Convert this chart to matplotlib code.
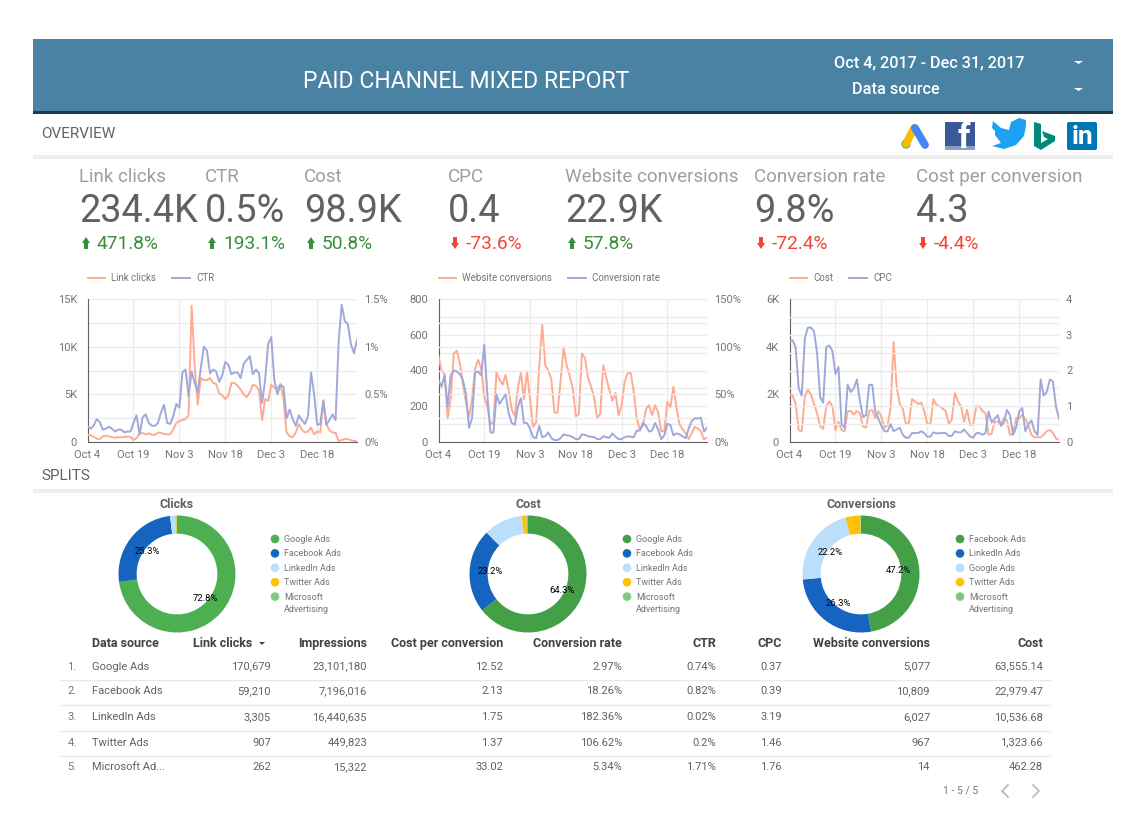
import matplotlib
matplotlib.use("Agg")
import matplotlib.pyplot as plt
import matplotlib.patches as mpatches
from matplotlib.lines import Line2D
import numpy as np
import pandas as pd

plt.rcParams['font.family'] = ['Roboto', 'DejaVu Sans']

W, H = 1145, 835

dates = pd.date_range("2017-10-04", "2017-12-31")
tick_dates = pd.to_datetime(["2017-10-04", "2017-10-19", "2017-11-03", "2017-11-18", "2017-12-03", "2017-12-18"])
tick_labels = ["Oct 4", "Oct 19", "Nov 3", "Nov 18", "Dec 3", "Dec 18"]

# thousands
link_clicks = [.75, .7, .55, .35, .3, .6, .65, .6, .5, .45,
               .5, .5, .55, .55, .55, .2, .4, .9, .95, .8,
               .9, .75, .75, 1.0, .95, .85, .8, .8, 1.3, 2.0,
               2.2, 2.3, 2.4, 2.8, 14.3, 8, 3.9, 6.7, 6.5, 6.5,
               6.7, 6.2, 6.1, 5.1, 4.9, 4.5, 4.9, 6.2, 6.2, 5.9,
               5.5, 5.0, 4.7, 5.2, 6.0, 5.9, 5.4, 2.3, 4.5, 4.3,
               6.0, 5.7, 5.6, 6.1, 4.5, 1.0, .6, .5, 1.0, 1.9,
               1.3, 1.0, 1.1, 1.5, .8, 1.1, 1.0, 4.4, 1.9, 1.2,
               1.0, .95, .1, .2, .3, .3, .2, .1, .1]
ctr = [.17, .14, .17, .24, .21, .13, .14, .16, .14, .11,
       .13, .13, .1, .11, .11, .2, .28, .08, .26, .29,
       .2, .17, .17, .2, .31, .39, .2, .19, .27, .4,
       .36, .73, .76, .48, .74, .62, .52, .78, 1.0, .96,
       .72, .76, .74, .63, .7, .84, .81, .71, .73, .73,
       .67, .82, .86, .9, .71, .76, .72, .41, .65, 1.03,
       1.1, .65, .5, .6, .58, .25, .34, .24, .17, .28,
       .23, .19, .27, .73, .5, .18, .19, .43, .18, .23,
       .29, .23, 1.05, 1.44, 1.27, 1.24, 1.03, .93, 1.07]
web_conv = [480, 400, 380, 130, 240, 495, 510, 440, 330, 220,
            140, 240, 410, 460, 410, 250, 200, 100, 110, 390,
            350, 320, 375, 290, 180, 145, 300, 390, 240, 395,
            240, 85, 110, 420, 655, 430, 400, 350, 165, 165,
            340, 530, 430, 370, 300, 145, 155, 495, 470, 360,
            310, 250, 130, 160, 430, 360, 290, 230, 275, 150,
            200, 335, 385, 390, 280, 130, 70, 90, 185, 205,
            150, 205, 165, 60, 60, 225, 195, 310, 190, 100,
            70, 50, 15, 50, 85, 75, 60, 15, 25]
conv_rate = [65, 58, 70, 37, 70, 75, 74, 71, 65, 50,
             15, 25, 73, 74, 70, 102, 50, 10, 10, 50,
             40, 45, 50, 30, 20, 18, 37, 46, 20, 20,
             14, 5, 4, 17, 5, 6, 10, 4, 2, 2,
             4, 8, 7, 6.5, 5, 3, 3, 8, 7.5, 6,
             5.5, 5, 3, 3, 6, 5, 4.5, 9, 5.5, 3,
             3, 5, 6, 5.5, 5, 12, 12, 20, 17, 11,
             12, 20, 13, 3, 7, 19, 18, 7, 9, 8,
             6, 4, 14, 22, 25, 24.5, 25.5, 11, 15]
cost = [2.0, 1.95, 1.6, .5, .45, 1.9, 2.2, 2.0, 1.6, 1.2,
        .65, .55, 1.5, 1.7, 1.5, .5, .85, .5, .45, 1.3,
        1.3, 1.15, 1.3, 1.2, .65, .6, 1.3, 1.35, 1.0, 1.3,
        1.05, .6, .7, 1.4, 4.2, 2.3, 1.6, 1.4, .75, .8,
        1.8, 1.7, 1.6, 1.65, 1.3, .75, .75, 1.8, 1.55, 1.5,
        1.4, 1.3, .75, .95, 2.05, 1.7, 1.5, .85, 1.35, .7,
        .75, 1.5, 1.5, 1.3, 1.2, .3, .35, .85, .85, .75,
        1.0, .9, .3, .35, 1.0, 1.0, 1.15, .95, .7, .3,
        .2, .2, .2, .3, .45, .5, .4, .15, .1]
cpc = [2.8, 2.85, 2.65, 1.5, 1.3, 2.9, 3.2, 3.2, 3.1, 2.5,
       1.25, 1.1, 2.65, 2.7, 2.55, 1.9, 2.1, .5, .4, 1.6,
       1.4, 1.5, 1.75, 1.15, .7, .75, 1.6, 1.6, .85, .65,
       .45, .3, .3, .5, .3, .35, .4, .2, .12, .12,
       .25, .25, .25, .3, .25, .15, .15, .27, .24, .25,
       .25, .25, .17, .17, .3, .27, .27, .35, .25, .15,
       .12, .25, .25, .2, .25, .85, .55, .65, .75, .45,
       .55, .9, .75, .2, .4, .85, .95, .3, .5, .6,
       .3, .2, 1.75, 1.3, 1.4, 1.75, 1.7, 1.0, .65]

kpi_names = ["Link clicks", "CTR", "Cost", "CPC", "Website conversions", "Conversion rate", "Cost per conversion"]
kpi_values = ["234.4K", "0.5%", "98.9K", "0.4", "22.9K", "9.8%", "4.3"]
kpi_deltas = ["471.8%", "193.1%", "50.8%", "-73.6%", "57.8%", "-72.4%", "-4.4%"]
kpi_x = [79, 205, 304, 448, 565, 754, 916]

clicks_names = ["Google Ads", "Facebook Ads", "LinkedIn Ads", "Twitter Ads", "Microsoft\nAdvertising"]
clicks_share = [72.8, 25.3, 1.4, 0.4, 0.1]
cost_names = ["Google Ads", "Facebook Ads", "LinkedIn Ads", "Twitter Ads", "Microsoft\nAdvertising"]
cost_share = [64.3, 23.2, 10.8, 1.3, 0.4]
conv_names = ["Facebook Ads", "LinkedIn Ads", "Google Ads", "Twitter Ads", "Microsoft\nAdvertising"]
conv_share = [47.2, 26.3, 22.2, 4.2, 0.1]

table_cols = ["Data source", "Link clicks", "Impressions", "Cost per conversion", "Conversion rate",
              "CTR", "CPC", "Website conversions", "Cost"]
table_rows = [
    ["Google Ads", "170,679", "23,101,180", "12.52", "2.97%", "0.74%", "0.37", "5,077", "63,555.14"],
    ["Facebook Ads", "59,210", "7,196,016", "2.13", "18.26%", "0.82%", "0.39", "10,809", "22,979.47"],
    ["LinkedIn Ads", "3,305", "16,440,635", "1.75", "182.36%", "0.02%", "3.19", "6,027", "10,536.68"],
    ["Twitter Ads", "907", "449,823", "1.37", "106.62%", "0.2%", "1.46", "967", "1,323.66"],
    ["Microsoft Ad...", "262", "15,322", "33.02", "5.34%", "1.71%", "1.76", "14", "462.28"],
]
table_x = [92, 252, 367, 503, 622, 716, 782, 930, 1043]
row_y = [666, 691, 717, 742, 767]

SALMON = "#ffab91"
PERI = "#9fa8da"
GRID = "#ececec"
GREY = "#757575"
DONUT_A = ["#4caf50", "#1565c0", "#bbdefb", "#ffc107", "#81c784"]
DONUT_B = ["#43a047", "#1565c0", "#bbdefb", "#ffc107", "#81c784"]


def box(x0, y0, x1, y1):
    # pixel box (y from the top) to figure fractions
    return [x0 / W, 1 - y1 / H, (x1 - x0) / W, (y1 - y0) / H]


fig = plt.figure(figsize=(W / 100, H / 100), dpi=100, facecolor="white")
bg = fig.add_axes([0, 0, 1, 1])
bg.set_xlim(0, W)
bg.set_ylim(H, 0)
bg.axis("off")

# banner
bg.add_patch(mpatches.Rectangle((33, 38.5), 1080, 72.5, color="#4a82a3", lw=0))
bg.add_patch(mpatches.Rectangle((33, 111), 1080, 3, color="#1d3c4e", lw=0))
bg.text(466, 81, "PAID CHANNEL MIXED REPORT", color="white", fontsize=16.6, ha="center", va="center")
bg.text(929, 63, "Oct 4, 2017 - Dec 31, 2017", color="white", fontsize=11.7, ha="center", va="center", weight="medium")
bg.text(895.5, 90, "Data source", color="white", fontsize=11.7, ha="center", va="center", weight="medium")
for y in (62, 89):
    bg.add_patch(mpatches.Polygon([(1074, y - 1), (1083, y - 1), (1078.5, y + 2)], color="white", lw=0))

# section headers
bg.text(41.5, 134, "OVERVIEW", color="#616161", fontsize=11, va="center")
bg.add_patch(mpatches.Rectangle((33, 155), 1080, 4, color="#eeeeee", lw=0))
bg.text(41.5, 476, "SPLITS", color="#616161", fontsize=11, va="center")
bg.add_patch(mpatches.Rectangle((33, 489), 1080, 3.5, color="#eeeeee", lw=0))

# logos
bg.add_line(Line2D([914, 906], [128, 144], color="#fbbc04", lw=5.6, solid_capstyle="round"))
bg.add_line(Line2D([915, 925], [128, 145], color="#4285f4", lw=5.6, solid_capstyle="round"))
bg.add_patch(mpatches.Circle((906, 144), 4.6, color="#34a853", lw=0))
bg.add_patch(mpatches.Rectangle((945, 122), 30, 28, color="#3b5998", lw=0))
bg.add_patch(mpatches.Rectangle((945, 146), 30, 4, color="#8b9dc3", lw=0))
bg.text(964, 138, "f", color="white", fontsize=25, weight="bold", ha="center", va="center")
bird = [(993, 121), (1001, 128), (1009, 130), (1011, 122), (1019, 118), (1026, 120), (1026, 126),
        (1024, 136), (1016, 145), (1004, 149), (992, 146), (1001, 143), (995, 135), (995, 131), (992, 128)]
bg.add_patch(mpatches.Polygon(bird, color="#1da1f2", lw=0))
bing = [(1034, 122), (1041, 124), (1041, 143), (1048, 139), (1044, 137), (1042, 131), (1055, 136), (1055, 141),
        (1041, 150), (1034, 146)]
bg.add_patch(mpatches.Polygon(bing, color="#00897b", lw=0))
bg.add_patch(mpatches.FancyBboxPatch((1067, 122), 30, 28, boxstyle="round,pad=0,rounding_size=2", color="#0077b5", lw=0))
bg.text(1082, 137, "in", color="white", fontsize=19, weight="bold", ha="center", va="center")

# KPI row
for name, value, delta, x in zip(kpi_names, kpi_values, kpi_deltas, kpi_x):
    bg.text(x, 177.5, name, color="#9e9e9e", fontsize=13.5, va="center")
    bg.text(x, 212, value, color="#616161", fontsize=27.3, va="center")
    up = not delta.startswith("-")
    col = "#388e3c" if up else "#f44336"
    ax_x = x + 7
    if up:
        arrow = [(ax_x - 4, 243), (ax_x, 237), (ax_x + 4, 243), (ax_x + 2, 243), (ax_x + 2, 249), (ax_x - 2, 249), (ax_x - 2, 243)]
    else:
        arrow = [(ax_x - 4, 243), (ax_x, 249), (ax_x + 4, 243), (ax_x + 2, 243), (ax_x + 2, 237), (ax_x - 2, 237), (ax_x - 2, 243)]
    bg.add_patch(mpatches.Polygon(arrow, color=col, lw=0))
    bg.text(x + 18, 244, delta, color=col, fontsize=13.8, va="center")


def line_chart(x0, x1, left, right, names, ymax_l, ymax_r, lticks, llabels, rticks, rlabels, grid_l, grid_r):
    ax = fig.add_axes(box(x0, 299, x1, 442))
    ax.patch.set_alpha(0)
    ax2 = ax.twinx()
    ax.set_xlim(dates[0], dates[-1])
    ax.set_ylim(0, ymax_l)
    ax2.set_ylim(0, ymax_r)
    for v in grid_l:
        ax.axhline(v, color=GRID, lw=1, zorder=0)
    for v in grid_r:
        ax2.axhline(v, color=GRID, lw=1, zorder=0)
    for d in tick_dates[1:]:
        ax.axvline(d, color=GRID, lw=1, zorder=0)
    l1, = ax.plot(dates, left, color=SALMON, lw=1.4, zorder=3)
    l2, = ax2.plot(dates, right, color=PERI, lw=1.4, zorder=3)
    ax.set_xticks(tick_dates)
    ax.set_xticklabels(tick_labels)
    ax.set_yticks(lticks)
    ax.set_yticklabels(llabels)
    ax2.set_yticks(rticks)
    ax2.set_yticklabels(rlabels)
    ax.tick_params(axis="y", length=0, labelsize=8, labelcolor=GREY, pad=7.5)
    ax.tick_params(axis="x", length=0, labelsize=8, labelcolor=GREY, pad=6)
    ax2.tick_params(axis="y", length=0, labelsize=8, labelcolor=GREY, pad=5)
    for a in (ax, ax2):
        a.spines["top"].set_visible(False)
        a.spines["right"].set_visible(False)
        a.spines["left"].set_color("#616161")
        a.spines["bottom"].set_color("#616161")
    ax2.spines["left"].set_visible(False)
    ax2.spines["bottom"].set_visible(False)
    ax.legend([l1, l2], names, loc="lower left", bbox_to_anchor=(0, 1.11), frameon=False, ncol=2,
              fontsize=7, labelcolor=GREY, borderpad=0, borderaxespad=0, handlelength=1.85,
              handletextpad=0.6, columnspacing=1.65)
    return ax


line_chart(87.5, 357, link_clicks, ctr, ["Link clicks", "CTR"], 15, 1.5,
           [0, 5, 10, 15], ["0", "5K", "10K", "15K"], [0, .5, 1, 1.5], ["0%", "0.5%", "1%", "1.5%"],
           [2.5, 5, 7.5, 10, 12.5, 15], [])
line_chart(438.5, 707, web_conv, conv_rate, ["Website conversions", "Conversion rate"], 800, 150,
           [0, 200, 400, 600, 800], ["0", "200", "400", "600", "800"], [0, 50, 100, 150], ["0%", "50%", "100%", "150%"],
           [100, 200, 300, 400, 500, 600, 700, 800], [25, 50, 75, 100, 125])
line_chart(789.5, 1059, cost, cpc, ["Cost", "CPC"], 6, 4,
           [0, 2, 4, 6], ["0", "2K", "4K", "6K"], [0, 1, 2, 3, 4], ["0", "1", "2", "3", "4"],
           [1, 2, 3, 4, 5, 6], [.5, 1, 1.5, 2, 2.5, 3, 3.5])


def donut(cx, title, shares, names, colors, legend_x):
    r = 58.5
    ax = fig.add_axes(box(cx - r, 574 - r, cx + r, 574 + r))
    ax.pie(shares, colors=colors, startangle=90, counterclock=False, radius=1,
           wedgeprops=dict(width=0.31, linewidth=0),
           autopct=lambda p: f"{p:.1f}%" if p > 15 else "", pctdistance=0.64,
           textprops=dict(fontsize=6.8, color="black"))
    ax.set_xlim(-1, 1)
    ax.set_ylim(-1, 1)
    bg.text(cx, 504.5, title, color="#616161", fontsize=9, weight="bold", ha="center", va="center")
    y = 539
    for name, col in zip(names, colors):
        bg.add_patch(mpatches.Circle((legend_x, y), 4.3, color=col, lw=0))
        bg.text(legend_x + 9, y + 0.5, name.split("\n")[0], color=GREY, fontsize=6.5, va="center")
        if "\n" in name:
            bg.text(legend_x + 9, y + 12.5, name.split("\n")[1], color=GREY, fontsize=6.5, va="center")
        y += 14.4


donut(177, "Clicks", clicks_share, clicks_names, DONUT_A, 275)
donut(528, "Cost", cost_share, cost_names, DONUT_B, 627)
donut(861, "Conversions", conv_share, conv_names, DONUT_B, 960)

# table
for i, (col, x) in enumerate(zip(table_cols, table_x)):
    ha = "left" if i == 0 else "right"
    bg.text(x, 643.5, col, color="#424242", fontsize=9, weight="bold", ha=ha, va="center")
bg.add_patch(mpatches.Polygon([(259, 642), (265, 642), (262, 645)], color="#424242", lw=0))
for j, (row, y) in enumerate(zip(table_rows, row_y)):
    bg.text(72, y + 0.5, f"{j + 1}.", color=GREY, fontsize=8, ha="center", va="center")
    for i, (val, x) in enumerate(zip(row, table_x)):
        ha = "left" if i == 0 else "right"
        if i == 1:
            x = 271
        bg.text(x, y + 0.5, val, color="#616161", fontsize=8, ha=ha, va="center")
    if j < 4:
        bg.add_line(Line2D([60, 1050], [y + 13.5, y + 13.5], color="#e8e8e8", lw=1))
bg.text(961, 790, "1 - 5 / 5", color=GREY, fontsize=7.5, ha="center", va="center")
bg.add_line(Line2D([1008, 1002, 1008], [785, 791, 797], color="#bdbdbd", lw=1.3))
bg.add_line(Line2D([1033, 1039, 1033], [785, 791, 797], color="#bdbdbd", lw=1.3))

fig.savefig("out.png", dpi=100, facecolor="white")
